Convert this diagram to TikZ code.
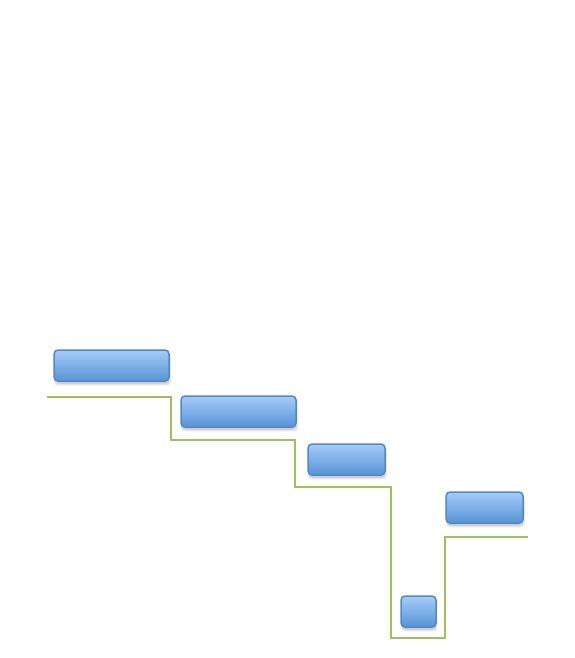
\documentclass[tikz,border=0pt]{standalone}
\usetikzlibrary{shadows}
\definecolor{boxtop}{RGB}{165,203,247}
\definecolor{boxbot}{RGB}{88,148,214}
\definecolor{boxedge}{RGB}{84,136,196}
\definecolor{stepgreen}{RGB}{160,192,96}
\tikzset{
  bar/.style={draw=boxedge, line width=1.5pt, rounded corners=4pt,
    top color=boxtop, bottom color=boxbot,
    drop shadow={shadow xshift=1pt, shadow yshift=-4pt, shadow scale=1.02, fill=black, opacity=0.10},
    drop shadow={shadow xshift=0.5pt, shadow yshift=-2.5pt, fill=black, opacity=0.12}},
  stairline/.style={draw=stepgreen, line width=2pt}
}
\begin{document}
\begin{tikzpicture}[x=1pt,y=-1pt]
\useasboundingbox (0,0) rectangle (574,658);
\path[bar] (54,350) rectangle (169,381);
\path[bar] (181,396) rectangle (296,427);
\path[bar] (308,444) rectangle (385,475);
\path[bar] (446,492) rectangle (523,523);
\path[bar] (401,596) rectangle (436,627);
\coordinate (s0) at (47,397);
\coordinate (s1) at (528,537);
\draw[stairline] (s0) -- (171,397) -- (171,440) -- (295,440) -- (295,487)
  -- (391,487) -- (391,638) -- (445,638) -- (445,537) -- (s1);
\end{tikzpicture}
\end{document}
